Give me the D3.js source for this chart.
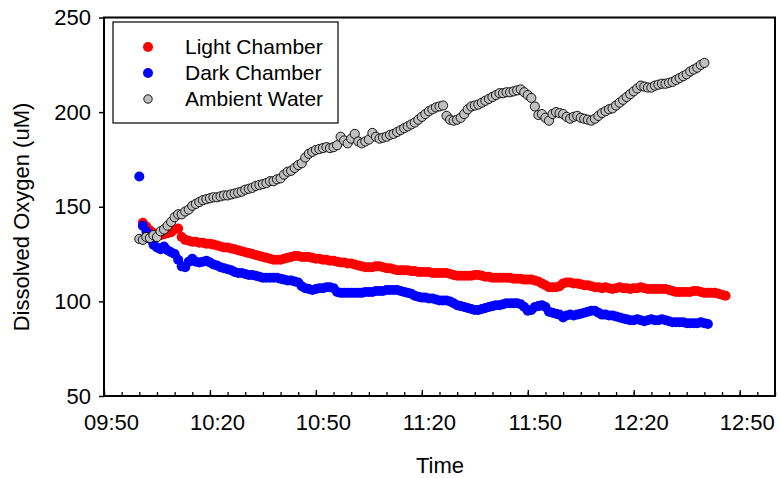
<!DOCTYPE html>
<html lang="en">
<head>
    <meta charset="UTF-8">
    <title>Dissolved Oxygen</title>
    <script src="https://d3js.org/d3.v7.min.js"></script>
    <style>
        body { margin: 0; background: #fff; }
        text { font-family: "Liberation Sans", Arial, sans-serif; fill: #000; }
    </style>
</head>
<body>
    <div id="chart"></div>
    <script>
        // logger readings, one per minute from each series' start time
        var seriesNames = ["Light Chamber", "Dark Chamber", "Ambient Water"];
        var lightStart = "10:01";
        var darkStart = "10:00";
        var ambientStart = "10:00";
        var stepMinutes = 1;

        var lightValues = [
            141.5, 139.5, 137.5, 136, 135.5, 135, 135.5, 136, 136.5, 138,
            138.5, 134, 132.5, 132, 131.5, 131.5, 131, 131, 130.5, 130.5,
            130, 129.5, 129, 128.5, 128.5, 128, 127.5, 127, 126.5, 126,
            125.5, 125, 124.5, 124, 123.5, 123, 122.5, 122, 122, 122,
            122.5, 123, 123.5, 124, 124, 123.5, 123.5, 123.5, 123, 122.5,
            122.5, 122, 122, 121.5, 121.5, 121, 120.5, 120.5, 120, 120,
            119.5, 119, 118.5, 118, 118, 118, 118.5, 118.5, 118, 117.5,
            117.5, 117, 116.5, 116.5, 116.5, 116.5, 116, 116, 115.5, 115.5,
            115.5, 115.5, 115, 115, 115, 115, 115, 114.5, 114, 113.5,
            113.5, 113.5, 113.5, 113.5, 114, 114, 113.5, 113, 113, 112.5,
            112.5, 112.5, 112.5, 112.5, 112.5, 112, 112, 112, 111.5, 111.5,
            111.5, 111, 110.5, 109.5, 108.5, 107.5, 107.5, 107.5, 108, 109.5,
            110, 110, 109.5, 109.5, 109, 108.5, 108.5, 108, 107.5, 107.5,
            107, 107.5, 107, 106.5, 107, 107.5, 107, 107, 106.5, 107,
            107, 107.5, 107, 106.5, 106.5, 106.5, 106.5, 106.5, 106.5, 106,
            105.5, 105, 105, 105, 105, 105, 105.5, 105.5, 105, 104.5,
            104.5, 104.5, 104.5, 104, 103.5, 103
        ];

        var darkValues = [
            166, 140, 137, 133, 130, 128.5, 127.5, 129, 127, 126,
            125, 122, 118.5, 118, 121, 122.5, 121, 120.5, 121, 121.5,
            120.5, 119.5, 119, 118, 117.5, 117, 116.5, 115.5, 115, 115,
            114.5, 114, 114, 113.5, 113, 112.5, 112.5, 112.5, 112.5, 112.5,
            112, 111.5, 111, 111, 110.5, 110, 108, 107, 106.5, 106,
            106.5, 107, 107, 107.5, 107.5, 107, 105, 104.5, 104.5, 104.5,
            104.5, 104.5, 104.5, 104.5, 105, 105, 105, 105.5, 105.5, 105.5,
            106, 106, 106, 106, 105.5, 105, 104.5, 104, 103, 102.5,
            102, 102, 101.5, 101.5, 101, 100.5, 100.5, 100.5, 100, 99,
            98, 97.5, 97, 96.5, 96, 95.5, 95.5, 96, 96.5, 97,
            97.5, 98, 98, 98.5, 99, 99, 99, 99, 98.5, 97,
            95, 95.5, 97, 97.5, 98, 97, 94.5, 94, 93.5, 93,
            91.5, 92.5, 93, 92.5, 93, 93.5, 94, 94.5, 95, 95,
            94, 93, 93, 92.5, 92.5, 92, 91.5, 91, 90.5, 90,
            90, 90.5, 90, 89.5, 90, 90.5, 90, 90, 90.5, 90,
            89.5, 89, 89, 89, 89, 88.5, 88.5, 88.5, 88.5, 89,
            88.5, 88
        ];

        var ambientValues = [
            133, 132.5, 134, 133.5, 135, 134, 137, 138, 140, 142,
            144.5, 146, 146, 147.5, 148.5, 150.5, 151.5, 152.5, 153.5, 154,
            154.5, 155, 155, 155.5, 156, 156, 156.5, 157, 157.5, 158,
            159, 159.5, 160, 161, 161.5, 162, 162.5, 163.5, 163.5, 164.5,
            165, 167, 168.5, 169, 170.5, 172, 173, 176, 178, 179,
            180, 180.5, 181, 181.5, 181, 181.5, 182.5, 187, 185, 183.5,
            186, 188.5, 184.5, 183.5, 184.5, 185.5, 189, 187, 186, 186.5,
            187, 188, 188.5, 189.5, 190.5, 191.5, 192.5, 193.5, 194.5, 196,
            197.5, 199, 200.5, 201.5, 202.5, 203, 203.5, 198, 196, 195.5,
            196, 197, 199, 201.5, 203, 203.5, 204, 205, 206, 207,
            208, 209, 210, 210, 210.5, 210.5, 211, 211.5, 212, 210.5,
            209, 207.5, 203, 198.5, 199, 197, 195.5, 199, 200, 199.5,
            199, 197.5, 196.5, 197.5, 198, 197, 196.5, 196, 195.5, 196.5,
            198, 199.5, 200.5, 201.5, 202, 203.5, 205, 206.5, 208, 209.5,
            211, 212.5, 214, 213.5, 213, 213, 214, 214.5, 215, 215,
            215.5, 216, 217, 218, 219, 220, 221.5, 222.5, 223.5, 225,
            226
        ];

        var xTickLabels = ["09:50", "10:20", "10:50", "11:20", "11:50", "12:20", "12:50"];
        var xDomain = ["09:50", "13:00"];
        var yTicks = [50, 100, 150, 200, 250];
        var yDomain = [50, 250];

        var margin = { top: 17.5, right: 5, bottom: 82, left: 104 };
        var width = 780 - margin.left - margin.right;
        var height = 478 - margin.top - margin.bottom;
        var time = d3.timeParse("%H:%M");

        function toPoints(start, values) {
            var t0 = time(start);
            return values.map(function (v, i) {
                return { t: d3.timeMinute.offset(t0, i * stepMinutes), v: v };
            });
        }

        var light = toPoints(lightStart, lightValues);
        var dark = toPoints(darkStart, darkValues);
        var ambient = toPoints(ambientStart, ambientValues);

        var svg = d3.select("#chart")
            .append("svg")
            .attr("width", 780)
            .attr("height", 478)
            .append("g")
            .attr("transform", "translate(" + margin.left + "," + margin.top + ")");

        var x = d3.scaleTime()
            .domain(xDomain.map(time))
            .range([0, width]);

        var y = d3.scaleLinear()
            .domain(yDomain)
            .range([height, 0]);

        // minor ticks every 5 minutes, pointing inward
        svg.append("g")
            .attr("transform", "translate(0," + height + ")")
            .call(d3.axisBottom(x)
                .tickValues(d3.timeMinute.every(5).range(time(xDomain[0]), d3.timeMinute.offset(time(xDomain[1]), 1)))
                .tickSizeInner(-4).tickSizeOuter(0).tickFormat(""))
            .call(function (g) { g.select(".domain").remove(); g.selectAll("line").attr("stroke-width", 1.3); });

        // labelled ticks every 30 minutes
        svg.append("g")
            .attr("transform", "translate(0," + height + ")")
            .call(d3.axisBottom(x)
                .tickValues(xTickLabels.map(time))
                .tickSizeInner(-6).tickSizeOuter(0).tickPadding(18)
                .tickFormat(d3.timeFormat("%H:%M")))
            .call(function (g) {
                g.select(".domain").remove();
                g.selectAll("line").attr("stroke-width", 1.3);
                g.selectAll("text").attr("dx", 7).style("font-size", "22px");
            });

        svg.append("g")
            .call(d3.axisLeft(y).tickValues(yTicks).tickSizeInner(5).tickSizeOuter(0).tickPadding(8))
            .call(function (g) {
                g.select(".domain").remove();
                g.selectAll("line").attr("stroke-width", 1.5);
                g.selectAll("text").style("font-size", "22px");
            });

        // frame
        svg.append("rect")
            .attr("x", 0).attr("y", 0)
            .attr("width", width).attr("height", height)
            .attr("fill", "none")
            .attr("stroke", "#000")
            .attr("stroke-width", 2);

        svg.append("g").selectAll("circle").data(light).enter().append("circle")
            .attr("cx", function (d) { return x(d.t); })
            .attr("cy", function (d) { return y(d.v); })
            .attr("r", 5)
            .style("fill", "#ff0000");

        svg.append("g").selectAll("circle").data(dark).enter().append("circle")
            .attr("cx", function (d) { return x(d.t); })
            .attr("cy", function (d) { return y(d.v); })
            .attr("r", 5)
            .style("fill", "#0000ff");

        svg.append("g").selectAll("circle").data(ambient).enter().append("circle")
            .attr("cx", function (d) { return x(d.t); })
            .attr("cy", function (d) { return y(d.v); })
            .attr("r", 4.6)
            .style("fill", "#c0c0c0")
            .style("stroke", "#000")
            .style("stroke-width", 0.9);

        // axis titles
        svg.append("text")
            .attr("x", 336)
            .attr("y", 455)
            .attr("text-anchor", "middle")
            .style("font-size", "22px")
            .text("Time");

        svg.append("text")
            .attr("transform", "rotate(-90)")
            .attr("x", -(217 - margin.top))
            .attr("y", 29 - margin.left)
            .attr("text-anchor", "middle")
            .style("font-size", "22px")
            .text("Dissolved Oxygen (uM)");

        // legend
        var legend = svg.append("g").attr("transform", "translate(" + (113 - margin.left) + "," + (22 - margin.top) + ")");
        legend.append("rect")
            .attr("width", 225).attr("height", 101)
            .attr("fill", "#fff").attr("stroke", "#000").attr("stroke-width", 1.2);

        var legendStyle = [
            { fill: "#ff0000", stroke: "none", r: 5 },
            { fill: "#0000ff", stroke: "none", r: 5 },
            { fill: "#c0c0c0", stroke: "#000", r: 4.2 }
        ];
        seriesNames.forEach(function (name, i) {
            var cy = 25 + i * 26;
            legend.append("circle")
                .attr("cx", 35).attr("cy", cy)
                .attr("r", legendStyle[i].r)
                .style("fill", legendStyle[i].fill)
                .style("stroke", legendStyle[i].stroke)
                .style("stroke-width", 0.9);
            legend.append("text")
                .attr("x", 72).attr("y", cy)
                .attr("dy", "0.35em")
                .style("font-size", "21px")
                .text(name);
        });
    </script>
</body>
</html>
